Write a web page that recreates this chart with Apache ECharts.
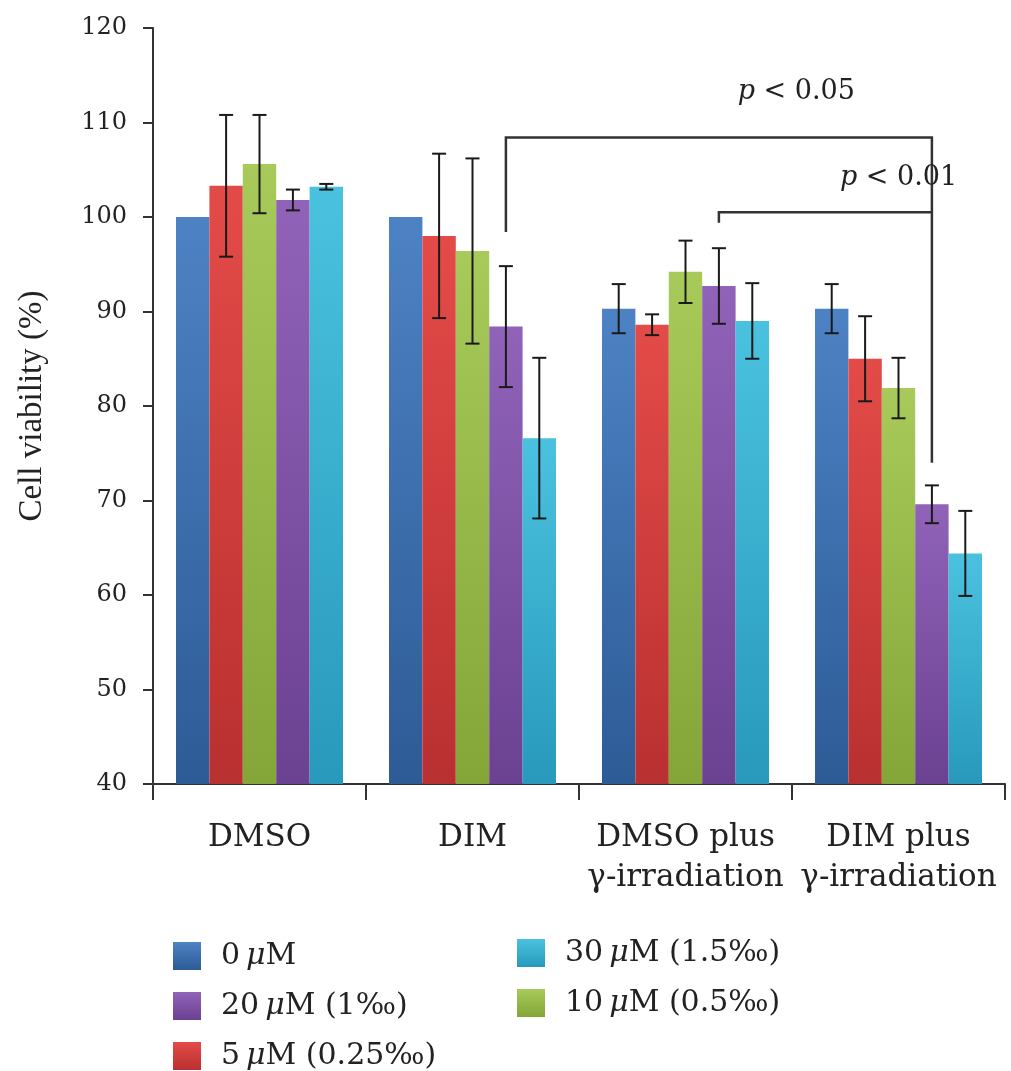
<!DOCTYPE html>
<html>
<head>
<meta charset="utf-8">
<script src="https://cdn.jsdelivr.net/npm/echarts@6/dist/echarts.min.js"></script>
<style>
  html, body { margin: 0; padding: 0; background: #fff; }
  #chart { width: 1011px; height: 1071px; }
</style>
</head>
<body>
<div id="chart"></div>
<script>
// groups on the x axis
var groups = ['DMSO', 'DIM', 'DMSO plus\nγ-irradiation', 'DIM plus\nγ-irradiation'];
var yTicks = [40, 50, 60, 70, 80, 90, 100, 110, 120];

// series names (bar order inside a group)
var names = ['0\u2009μM', '5\u2009μM (0.25‰)', '10\u2009μM (0.5‰)', '20\u2009μM (1‰)', '30\u2009μM (1.5‰)'];

// mean cell viability (%) per group
var mean0  = [100, 100, 90.3, 90.3];
var mean5  = [103.3, 98.0, 88.6, 85.0];
var mean10 = [105.6, 96.4, 94.2, 81.9];
var mean20 = [101.8, 88.4, 92.7, 69.6];
var mean30 = [103.2, 76.6, 89.0, 64.4];

// error bar half-widths
var err0  = [0, 0, 2.6, 2.6];
var err5  = [7.5, 8.7, 1.1, 4.5];
var err10 = [5.2, 9.8, 3.3, 3.2];
var err20 = [1.1, 6.4, 4.0, 2.0];
var err30 = [0.3, 8.5, 4.0, 4.5];

// significance brackets: [fromGroup, fromBar, toGroup, toBar, top, fromLegEnd, toLegEnd]
var bracketA = [1, 3, 3, 3, 108.4, 98.4, 74.0];
var bracketB = [2, 3, 3, 3, 100.5, 99.4, 100.5];
var bracketText = ['0.05', '0.01'];
// label anchor: [group position, value]
var labelA = [2.52, 113.2];
var labelB = [3.0, 104.1];

var colors = [
  ['#4d82c4', '#2d5b96'],
  ['#e34b48', '#b93030'],
  ['#a8ca5b', '#84a638'],
  ['#9063b8', '#6b4192'],
  ['#4ac2df', '#2899bb']
];

var GAP = 0.216;
var serif = 'DejaVu Serif';

var chart = echarts.init(document.getElementById('chart'));

var means = [mean0, mean5, mean10, mean20, mean30];
var errs = [err0, err5, err10, err20, err30];

var series = names.map(function (n, k) {
  return {
    name: n,
    type: 'bar',
    barGap: '0%',
    barCategoryGap: (GAP * 100) + '%',
    itemStyle: {
      color: new echarts.graphic.LinearGradient(0, 0, 0, 1, [
        { offset: 0, color: colors[k][0] },
        { offset: 1, color: colors[k][1] }
      ])
    },
    data: means[k]
  };
});

var errData = [];
for (var k = 0; k < 5; k++) {
  for (var g = 0; g < groups.length; g++) {
    if (errs[k][g] > 0) errData.push([g, k, means[k][g], errs[k][g]]);
  }
}

series.push({
  type: 'custom',
  name: 'err',
  z: 5,
  encode: { x: 0, y: 2 },
  renderItem: function (params, api) {
    var g = api.value(0), k = api.value(1), m = api.value(2), e = api.value(3);
    var bw = api.size([1, 0])[0];
    var barW = bw * (1 - GAP) / 5;
    var x = api.coord([g, m])[0] + (k - 2) * barW;
    var hi = api.coord([g, m + e])[1];
    var lo = api.coord([g, m - e])[1];
    var st = { stroke: '#1a1a1a', lineWidth: 2 };
    return {
      type: 'group',
      children: [
        { type: 'line', shape: { x1: x, y1: hi, x2: x, y2: lo }, style: st },
        { type: 'line', shape: { x1: x - 7, y1: hi, x2: x + 7, y2: hi }, style: st },
        { type: 'line', shape: { x1: x - 7, y1: lo, x2: x + 7, y2: lo }, style: st }
      ]
    };
  },
  data: errData
});

var brackets = [bracketA, bracketB];
var labels = [labelA, labelB];

series.push({
  type: 'custom',
  name: 'sig',
  z: 6,
  silent: true,
  encode: { x: 0, y: 4 },
  renderItem: function (params, api) {
    var b = brackets[params.dataIndex];
    var lab = labels[params.dataIndex];
    var bw = api.size([1, 0])[0];
    var barW = bw * (1 - GAP) / 5;
    var x1 = api.coord([b[0], b[4]])[0] + (b[1] - 2) * barW;
    var x2 = api.coord([b[2], b[4]])[0] + (b[3] - 2) * barW;
    var yt = api.coord([b[0], b[4]])[1];
    var y1 = api.coord([b[0], b[5]])[1];
    var y2 = api.coord([b[0], b[6]])[1];
    var lg = Math.floor(lab[0]);
    var lx = api.coord([lg, 0])[0] + (lab[0] - lg) * bw;
    var ly = api.coord([lg, lab[1]])[1];
    return {
      type: 'group',
      children: [
        {
          type: 'polyline',
          shape: { points: [[x1, y1], [x1, yt], [x2, yt], [x2, y2]] },
          style: { stroke: '#333', lineWidth: 2.5, fill: null }
        },
        {
          type: 'text',
          x: lx, y: ly,
          style: {
            text: '{p|p} < ' + bracketText[params.dataIndex],
            align: 'center', verticalAlign: 'middle',
            font: '27px "' + serif + '"', fill: '#222',
            rich: { p: { fontStyle: 'italic', fontSize: 27, fontFamily: serif, fill: '#222' } }
          }
        }
      ]
    };
  },
  data: brackets
});

var legendText = {
  fontFamily: serif, fontSize: 30, lineHeight: 28, color: '#222',
  padding: [0, 0, 0, 15],
  rich: { i: { fontFamily: serif, fontSize: 30, lineHeight: 28, fontStyle: 'italic', color: '#222' } }
};
function legendFmt(n) { return n.replace('μ', '{i|μ}'); }

var option = {
  animation: false,
  backgroundColor: '#fff',
  grid: { left: 153, right: 6, top: 28, bottom: 287 },
  legend: [
    {
      orient: 'vertical', left: 173, top: 941, padding: 0,
      itemWidth: 28, itemHeight: 28, itemGap: 20,
      icon: 'rect',
      data: [names[0], names[3], names[1]],
      formatter: legendFmt,
      textStyle: legendText
    },
    {
      orient: 'vertical', left: 517, top: 938, padding: 0,
      itemWidth: 28, itemHeight: 28, itemGap: 20,
      icon: 'rect',
      data: [names[4], names[2]],
      formatter: legendFmt,
      textStyle: legendText
    }
  ],
  xAxis: {
    type: 'category',
    data: groups,
    axisLine: { lineStyle: { color: '#333', width: 2 } },
    axisTick: { show: true, length: 16, lineStyle: { color: '#333', width: 2 } },
    axisLabel: {
      color: '#222', fontFamily: serif, fontSize: 31, lineHeight: 40,
      margin: 34, interval: 0
    }
  },
  yAxis: {
    type: 'value',
    min: yTicks[0],
    max: yTicks[yTicks.length - 1],
    interval: 10,
    name: 'Cell viability (%)',
    nameLocation: 'middle',
    nameGap: 104,
    nameTextStyle: { fontFamily: 'Liberation Serif', fontSize: 33, color: '#222' },
    axisLine: { show: true, lineStyle: { color: '#333', width: 2 } },
    axisTick: { show: true, length: 10, lineStyle: { color: '#333', width: 2 } },
    axisLabel: { color: '#222', fontFamily: serif, fontSize: 24, margin: 26 },
    splitLine: { show: false }
  },
  series: series
};

chart.setOption(option);
</script>
</body>
</html>
